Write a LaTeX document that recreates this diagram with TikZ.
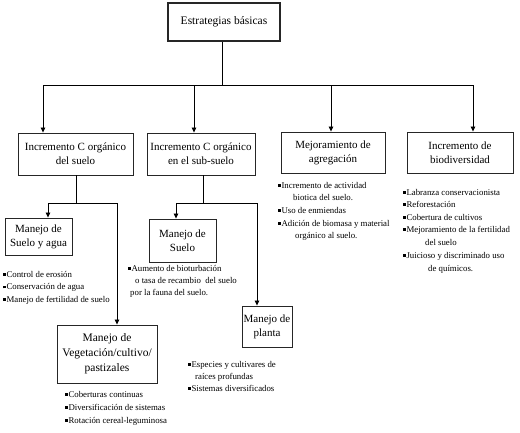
\documentclass[tikz,border=0pt]{standalone}
\usepackage{fontspec}
\setmainfont{Liberation Serif}
\usetikzlibrary{arrows.meta}
\newcommand\bul{\rule[0.14em]{0.3em}{0.3em}\kern0.08em}
\tikzset{
  box/.style={draw=black!85, line width=0.9pt, align=center, inner sep=0pt,
    font=\fontsize{11}{14}\selectfont},
  lst/.style={anchor=base west, inner sep=0pt, font=\fontsize{8.8}{10}\selectfont},
  ln/.style={draw=black, line width=0.8pt},
  arr/.style={ln, -{Triangle[length=5pt,width=4.5pt]}}
}
\begin{document}
\begin{tikzpicture}[x=1pt,y=-1pt]
\useasboundingbox (0,0) rectangle (520,432);
% boxes
\node[box, line width=1.3pt, minimum width=112pt, minimum height=38pt, font=\fontsize{11.5}{14}\selectfont] (top) at (224,22) {Estrategias básicas};
\node[box, minimum width=115pt, minimum height=42pt] (b1) at (75.5,154) {Incremento C orgánico\\del suelo};
\node[box, minimum width=108pt, minimum height=42pt] (b2) at (201,154) {Incremento C orgánico\\en el sub-suelo};
\node[box, minimum width=104pt, minimum height=41pt] (b3) at (333,152.5) {Mejoramiento de\\agregación};
\node[box, minimum width=106pt, minimum height=41pt] (b4) at (460,152.5) {Incremento de\\biodiversidad};
\node[box, minimum width=67pt, minimum height=37pt] (ms1) at (38.5,236.5) {Manejo de\\Suelo y agua};
\node[box, minimum width=67pt, minimum height=43pt] (ms2) at (182.5,240.5) {Manejo de\\Suelo};
\node[box, minimum width=50pt, minimum height=41pt] (mp) at (267,326.5) {Manejo de\\planta};
\node[box, minimum width=100pt, minimum height=58pt, font=\fontsize{11.5}{15}\selectfont] (mv) at (107,354) {Manejo de\\Vegetación/cultivo/\\pastizales};
% connectors
\coordinate (bus) at (222,85);
\coordinate (j1) at (43,85);
\coordinate (j2) at (194,85);
\coordinate (j3) at (331,85);
\coordinate (j4) at (473,85);
\draw[ln] (top.south -| bus) -- (bus);
\draw[ln] (j1) -- (j4);
\draw[arr] (j1) -- (j1 |- b1.north);
\draw[arr] (j2) -- (j2 |- b2.north);
\draw[arr] (j3) -- (j3 |- b3.north);
\draw[arr] (j4) -- (j4 |- b4.north);
\coordinate (s1) at (76,203);
\coordinate (l1) at (48,203);
\coordinate (r1) at (117,203);
\draw[ln] (b1.south -| s1) -- (s1);
\draw[arr] (s1) -- (l1) -- (l1 |- ms1.north);
\draw[arr] (s1) -- (r1) -- (r1 |- mv.north);
\coordinate (s2) at (203,203);
\coordinate (l2) at (176,203);
\coordinate (r2) at (257,203);
\draw[ln] (b2.south -| s2) -- (s2);
\draw[arr] (s2) -- (l2) -- (l2 |- ms2.north);
\draw[arr] (s2) -- (r2) -- (r2 |- mp.north);
% lists
\node[lst] (a1) at (3,277) {\bul Control de erosión};
\node[lst] (a2) at (3,289.5) {\bul Conservación de agua};
\node[lst] (a3) at (3,302) {\bul Manejo de fertilidad de suelo};
\node[lst] (c1) at (128,271) {\bul Aumento de bioturbación};
\node[lst] (c2) at (135,283) {o tasa de recambio\ \ del suelo};
\node[lst] (c3) at (130,295) {por la fauna del suelo.};
\node[lst] (v1) at (65,397) {\bul Coberturas continuas};
\node[lst] (v2) at (65,410) {\bul Diversificación de sistemas};
\node[lst] (v3) at (65,423) {\bul Rotación cereal-leguminosa};
\node[lst] (p1) at (188,367) {\bul Especies y cultivares de};
\node[lst] (p2) at (195,379) {raíces profundas};
\node[lst] (p3) at (188,391) {\bul Sistemas diversificados};
\node[lst] (e1) at (278,188) {\bul Incremento de actividad};
\node[lst] (e2) at (293,200) {biotica del suelo.};
\node[lst] (e3) at (278,213) {\bul Uso de enmiendas};
\node[lst] (e4) at (278,226) {\bul Adición de biomasa y material};
\node[lst] (e5) at (295,238) {orgánico al suelo.};
\node[lst] (f1) at (403,195) {\bul Labranza conservacionista};
\node[lst] (f2) at (403,207) {\bul Reforestación};
\node[lst] (f3) at (403,220) {\bul Cobertura de cultivos};
\node[lst] (f4) at (403,232) {\bul Mejoramiento de la fertilidad};
\node[lst] (f5) at (425,245) {del suelo};
\node[lst] (f6) at (403,258) {\bul Juicioso y discriminado uso};
\node[lst] (f7) at (428,271) {de químicos.};
\end{tikzpicture}
\end{document}
